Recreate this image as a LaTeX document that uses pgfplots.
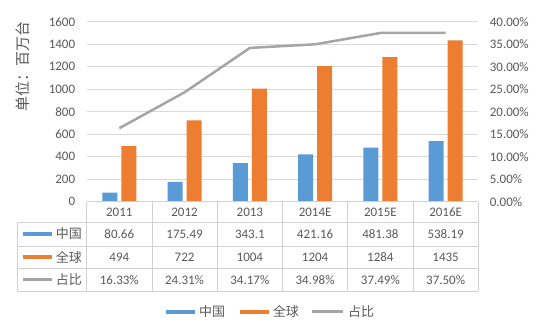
\documentclass[border=0pt]{standalone}
\usepackage{pgfplots}
\pgfplotsset{compat=1.18}
\usepackage{fontspec}
\setmainfont{Carlito}
\newfontfamily\cjk{Noto Sans CJK SC}
\definecolor{cblue}{HTML}{5B9BD5}
\definecolor{corange}{HTML}{ED7D31}
\definecolor{cgray}{HTML}{A5A5A5}
\definecolor{ctext}{HTML}{595959}
\definecolor{cgrid}{HTML}{D9D9D9}
\definecolor{cline}{HTML}{D0D0D0}
\begin{document}
\begin{tikzpicture}
\useasboundingbox (0pt,0pt) rectangle (541pt,326pt);
\pgfplotsset{base/.style={scale only axis, width=391.6pt, height=180pt,
  at={(86.7pt,124.3pt)}, anchor=south west, xmin=-0.5, xmax=5.5,
  axis line style={draw=none}, major tick length=0pt, xtick=\empty,
  tick label style={font=\fontsize{13}{15}\selectfont, text=ctext}}}
\begin{axis}[base, ymin=0, ymax=1600, ytick={0,200,...,1600},
  yticklabels={0,200,400,600,800,1000,1200,1400,1600},
  ymajorgrids, grid style={cgrid, line width=0.75pt},
  yticklabel style={xshift=-8pt}]
\addplot[ybar, bar width=15pt, bar shift=-9.5pt, fill=cblue, draw=none]
  coordinates {(0,80.66) (1,175.49) (2,343.1) (3,421.16) (4,481.38) (5,538.19)};
\addplot[ybar, bar width=15pt, bar shift=9.5pt, fill=corange, draw=none]
  coordinates {(0,494) (1,722) (2,1004) (3,1204) (4,1284) (5,1435)};
\end{axis}
\begin{axis}[base, yticklabel pos=right, ymin=0, ymax=40, ytick={0,5,...,40},
  yticklabels={0.00\%,5.00\%,10.00\%,15.00\%,20.00\%,25.00\%,30.00\%,35.00\%,40.00\%},
  yticklabel style={xshift=8pt}]
\addplot[cgray, line width=2.5pt]
  coordinates {(0,16.33) (1,24.31) (2,34.17) (3,34.98) (4,37.49) (5,37.50)};
\end{axis}
\begin{scope}[x=1pt,y=1pt, every node/.style={font=\fontsize{13}{15}\selectfont, text=ctext, inner sep=0pt}]
% table lines
\draw[cline, line width=0.75pt] (86.7,124.3) -- (478.3,124.3);
\foreach \yy in {103.7,80,58,35} { \draw[cline, line width=0.75pt] (17.3,\yy) -- (478.3,\yy); }
\draw[cline, line width=0.75pt] (17.3,103.7) -- (17.3,35);
\foreach \i in {0,...,6} { \draw[cline, line width=0.75pt] ({86.7+65.27*\i},124.3) -- ({86.7+65.27*\i},35); }
% table text
\foreach \i/\yr/\a/\b/\c in {0/2011/80.66/494/16.33\%, 1/2012/175.49/722/24.31\%, 2/2013/343.1/1004/34.17\%, 3/2014E/421.16/1204/34.98\%, 4/2015E/481.38/1284/37.49\%, 5/2016E/538.19/1435/37.50\%} {
  \node at ({119.3+65.27*\i},113.5) {\yr};
  \node at ({119.3+65.27*\i},91.5) {\a};
  \node at ({119.3+65.27*\i},68.5) {\b};
  \node at ({119.3+65.27*\i},46) {\c};
}
% table legend keys
\draw[cblue, line width=4pt] (22.7,92) -- (51.7,92);
\node[anchor=east] at (82,92) {\cjk 中国};
\draw[corange, line width=4pt] (22.7,69) -- (51.7,69);
\node[anchor=east] at (82,69) {\cjk 全球};
\draw[cgray, line width=2.5pt] (22.7,46.5) -- (51.7,46.5);
\node[anchor=east] at (82,46.5) {\cjk 占比};
% bottom legend
\draw[cblue, line width=4pt] (166,14.3) -- (195,14.3);
\node[anchor=west] at (199,14.3) {\cjk 中国};
\draw[corange, line width=4pt] (240,14.3) -- (269,14.3);
\node[anchor=west] at (272.7,14.3) {\cjk 全球};
\draw[cgray, line width=2.5pt] (312,14.3) -- (343,14.3);
\node[anchor=west] at (348,14.3) {\cjk 占比};
% y label
\node[rotate=90, font=\cjk\fontsize{15}{17}\selectfont] at (23,259.5) {单位：百万台};
\end{scope}
\end{tikzpicture}
\end{document}
